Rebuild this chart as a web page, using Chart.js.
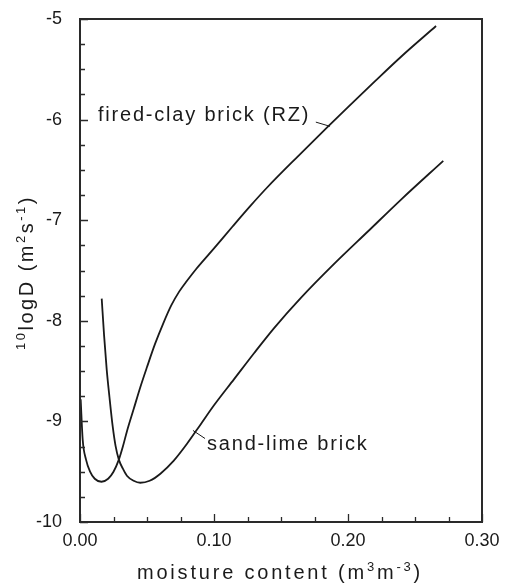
<!DOCTYPE html>
<html><head><meta charset="utf-8">
<script src="https://cdn.jsdelivr.net/npm/chart.js@4/dist/chart.umd.min.js"></script>
<style>html,body{margin:0;padding:0;background:#fff;}</style>
</head><body>
<canvas id="c" width="505" height="587" style="width:505px;height:587px;display:block"></canvas>
<script>
// ---- data ----
const firedClayX = [0.0005,0.002,0.0045,0.0075,0.011,0.016,0.021,0.025,0.029,0.032,0.035,0.040,0.045,0.050,0.056,0.062,0.068,0.074,0.080,0.087,0.100,0.114,0.127,0.140,0.163,0.185,0.200,0.220,0.240,0.2657];
const firedClayY = [-8.78,-9.18,-9.38,-9.50,-9.57,-9.60,-9.57,-9.50,-9.38,-9.25,-9.10,-8.88,-8.66,-8.46,-8.23,-8.03,-7.85,-7.71,-7.60,-7.48,-7.28,-7.06,-6.86,-6.67,-6.36,-6.07,-5.875,-5.62,-5.37,-5.07];
const sandLimeX = [0.0162,0.018,0.0199,0.022,0.0244,0.0265,0.029,0.032,0.035,0.040,0.045,0.052,0.060,0.070,0.080,0.090,0.100,0.115,0.130,0.145,0.165,0.190,0.215,0.240,0.2711];
const sandLimeY = [-7.78,-8.15,-8.48,-8.76,-9.05,-9.24,-9.38,-9.47,-9.54,-9.59,-9.61,-9.59,-9.52,-9.39,-9.22,-9.03,-8.84,-8.58,-8.32,-8.07,-7.77,-7.43,-7.11,-6.79,-6.41];
const seriesNames = ['fired-clay brick (RZ)', 'sand-lime brick'];
const xTickValues = [0, 0.1, 0.2, 0.3];
const yTickValues = [-10, -9, -8, -7, -6, -5];
const xTitleParts = [['moisture content (m', 0], ['3', 1], ['m', 0], ['-3', 1], [')', 0]];
const yTitleParts = [['10', 1], ['logD (m', 0], ['2', 1], ['s', 0], ['-1', 1], [')', 0]];

// annotation placement (data coordinates)
const labelAnchors = [
  {text: 0, x: 0.0134, y: -5.96, lx1: 0.1760, ly1: -6.025, lx2: 0.1866, ly2: -6.067},
  {text: 1, x: 0.0948, y: -9.23, lx1: 0.0843, ly1: -9.09, lx2: 0.0933, ly2: -9.17}
];

const FONT = '"Liberation Sans", Arial, Helvetica, sans-serif';
const INK = '#1a1a1a';

function toPts(xs, ys) { return xs.map((x, i) => ({x: x, y: ys[i]})); }

function drawRich(ctx, parts, cx, baseY, size, supSize, spacing) {
  ctx.save();
  ctx.letterSpacing = spacing + 'px';
  ctx.textBaseline = 'alphabetic';
  ctx.textAlign = 'left';
  let widths = parts.map(p => {
    ctx.font = (p[1] ? supSize : size) + 'px ' + FONT;
    return ctx.measureText(p[0]).width;
  });
  const total = widths.reduce((a, b) => a + b, 0);
  let x = cx - total / 2;
  parts.forEach((p, i) => {
    ctx.font = (p[1] ? supSize : size) + 'px ' + FONT;
    ctx.fillText(p[0], x, p[1] ? baseY - 8 : baseY);
    x += widths[i];
  });
  ctx.restore();
}

const framePlugin = {
  id: 'frame',
  afterDatasetsDraw(chart) {
    const ctx = chart.ctx;
    const a = chart.chartArea;
    const xs = chart.scales.x, ys = chart.scales.y;
    ctx.save();
    ctx.strokeStyle = '#2a2a2a';
    ctx.lineWidth = 2;
    ctx.strokeRect(a.left, a.top, a.right - a.left, a.bottom - a.top);
    ctx.lineWidth = 1.3;
    ctx.beginPath();
    for (let i = 0; i <= 12; i++) {
      const v = i * 0.025;
      const px = Math.round(xs.getPixelForValue(v)) + 0.5;
      const len = (i % 4 === 0) ? 8 : 5;
      ctx.moveTo(px, a.bottom);
      ctx.lineTo(px, a.bottom - len);
    }
    for (let i = 0; i <= 20; i++) {
      const v = -10 + i * 0.25;
      const py = Math.round(ys.getPixelForValue(v)) + 0.5;
      const len = (i % 4 === 0) ? 8 : 5;
      ctx.moveTo(a.left, py);
      ctx.lineTo(a.left + len, py);
    }
    ctx.stroke();

    // annotations
    ctx.fillStyle = INK;
    ctx.strokeStyle = INK;
    ctx.lineWidth = 1;
    ctx.font = '20px ' + FONT;
    ctx.letterSpacing = '1.8px';
    ctx.textBaseline = 'middle';
    ctx.textAlign = 'left';
    labelAnchors.forEach(l => {
      ctx.fillText(seriesNames[l.text], xs.getPixelForValue(l.x), ys.getPixelForValue(l.y));
      ctx.beginPath();
      ctx.moveTo(xs.getPixelForValue(l.lx1), ys.getPixelForValue(l.ly1));
      ctx.lineTo(xs.getPixelForValue(l.lx2), ys.getPixelForValue(l.ly2));
      ctx.stroke();
    });
    ctx.restore();

    // axis titles
    ctx.save();
    ctx.fillStyle = INK;
    drawRich(ctx, xTitleParts, (a.left + a.right) / 2 - 1, 579, 20, 13, 2.8);
    ctx.translate(33, (a.top + a.bottom) / 2 + 2);
    ctx.rotate(-Math.PI / 2);
    drawRich(ctx, yTitleParts, 0, 0, 20, 13, 2.5);
    ctx.restore();
  }
};

new Chart(document.getElementById('c'), {
  type: 'scatter',
  data: {
    datasets: [
      {label: seriesNames[0], data: toPts(firedClayX, firedClayY), showLine: true, borderColor: INK, borderWidth: 1.8, pointRadius: 0, cubicInterpolationMode: 'monotone', fill: false},
      {label: seriesNames[1], data: toPts(sandLimeX, sandLimeY), showLine: true, borderColor: INK, borderWidth: 1.8, pointRadius: 0, cubicInterpolationMode: 'monotone', fill: false}
    ]
  },
  options: {
    responsive: false,
    animation: false,
    devicePixelRatio: 1,
    layout: {padding: {top: 10, right: 23, left: 0, bottom: 0}},
    plugins: {legend: {display: false}, tooltip: {enabled: false}},
    scales: {
      x: {
        type: 'linear', min: 0, max: 0.3,
        grid: {display: false}, border: {display: false},
        afterBuildTicks: s => { s.ticks = xTickValues.map(v => ({value: v})); },
        afterFit: s => { s.height = 65; },
        ticks: {padding: 2, color: INK, font: {family: FONT, size: 18, lineHeight: 1}, maxRotation: 0,
                callback: v => Number(v).toFixed(2)}
      },
      y: {
        type: 'linear', min: -10, max: -5,
        grid: {display: false}, border: {display: false},
        afterBuildTicks: s => { s.ticks = yTickValues.map(v => ({value: v})); },
        afterFit: s => { s.width = 80; },
        ticks: {padding: 10, color: INK, font: {family: FONT, size: 18, lineHeight: 1},
                callback: v => String(v)}
      }
    }
  },
  plugins: [framePlugin]
});
</script>
</body></html>
